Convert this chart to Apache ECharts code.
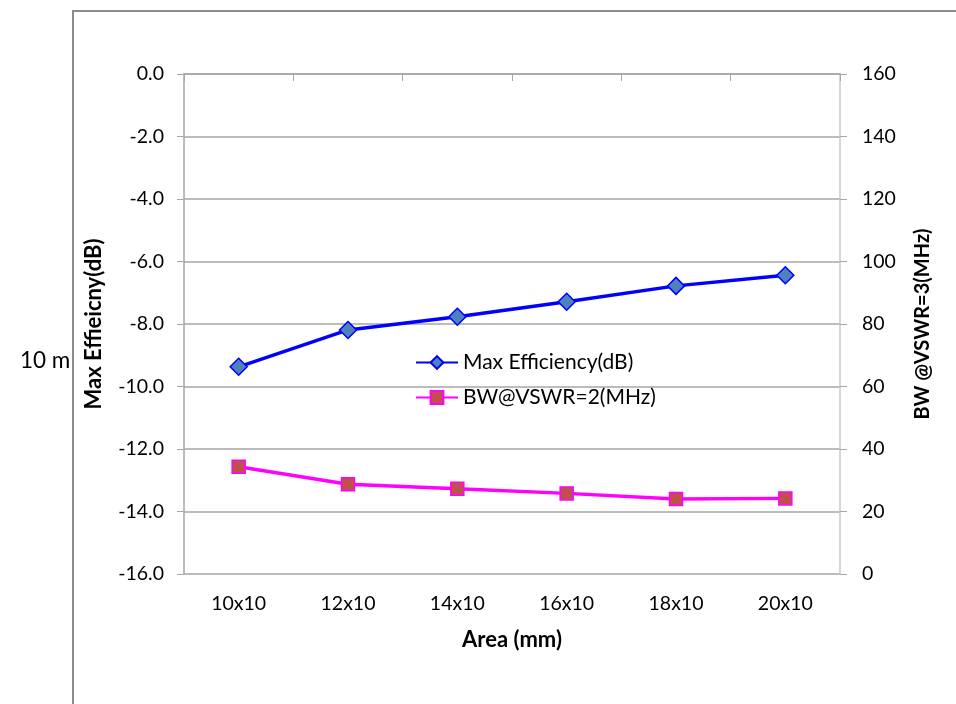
<!DOCTYPE html>
<html><head><meta charset="utf-8">
<script src="https://cdn.jsdelivr.net/npm/echarts@6/dist/echarts.min.js"></script>
<style>html,body{margin:0;padding:0;background:#fff}#c{width:956px;height:704px}</style>
</head><body><div id="c"></div>
<script>
const categories = ['10x10','12x10','14x10','16x10','18x10','20x10'];
const efficiency = [-9.37, -8.19, -7.77, -7.29, -6.78, -6.44];
const bandwidth = [34.3, 28.7, 27.3, 25.8, 24.0, 24.2];
const FONT = 'Lato, "Open Sans", sans-serif';
const chart = echarts.init(document.getElementById('c'));
chart.setOption({
  animation: false,
  textStyle: {fontFamily: FONT},
  graphic: [
    {type:'rect', shape:{x:73, y:11, width:1000, height:800}, style:{fill:'none', stroke:'#8c8c8c', lineWidth:2}, silent:true, z:-1},
    {type:'text', left:20, top:349, style:{text:'10 m', font:'22.5px ' + FONT, fill:'#000'}}
  ],
  grid: {left:184, right:116, top:74, bottom:130, containLabel:false},
  legend: {
    orient:'vertical', left:410, top:347, itemGap:14, itemWidth:42, itemHeight:16,
    textStyle:{fontSize:21, fontFamily:FONT, color:'#000'},
    data:[{name:'Max Efficiency(dB)'},{name:'BW@VSWR=2(MHz)'}]
  },
  xAxis: {
    type:'category', data:categories, boundaryGap:true,
    name:'Area (mm)', nameLocation:'middle', nameGap:55,
    nameTextStyle:{fontSize:22, fontWeight:'bold', color:'#000', fontFamily:FONT},
    axisLine:{lineStyle:{color:'#a6a6a6', width:1.5}},
    axisTick:{show:true, length:7, lineStyle:{color:'#a6a6a6'}, alignWithLabel:false},
    axisLabel:{fontSize:19.5, color:'#000', margin:20, fontFamily:FONT}
  },
  yAxis: [
    {
      type:'value', min:-16, max:0, interval:2, position:'left',
      name:'Max Effieicny(dB)', nameLocation:'middle', nameGap:79,
      nameTextStyle:{fontSize:22, fontWeight:'bold', color:'#000', fontFamily:FONT},
      axisLine:{show:true, lineStyle:{color:'#a6a6a6', width:1.5}},
      axisTick:{show:true, length:7, lineStyle:{color:'#a6a6a6'}},
      axisLabel:{fontSize:19.5, color:'#000', margin:20, fontFamily:FONT, formatter:v=>v.toFixed(1)},
      splitLine:{lineStyle:{color:'#a6a6a6', width:1.5}}
    },
    {
      type:'value', min:0, max:160, interval:20, position:'right',
      name:'BW @VSWR=3(MHz)', nameLocation:'middle', nameGap:73,
      nameTextStyle:{fontSize:20, fontWeight:'bold', color:'#000', fontFamily:FONT},
      axisLine:{show:true, lineStyle:{color:'#c8c8c8', width:1.5}},
      axisTick:{show:true, length:7, lineStyle:{color:'#a6a6a6'}},
      axisLabel:{fontSize:19.5, color:'#000', margin:22, fontFamily:FONT},
      splitLine:{show:false}
    }
  ],
  series: [
    {
      name:'Max Efficiency(dB)', type:'line', yAxisIndex:0, data:efficiency,
      symbol:'diamond', symbolSize:17,
      lineStyle:{color:'#0000ff', width:3.5},
      itemStyle:{color:'#4f81bd', borderColor:'#0000ff', borderWidth:1.5}
    },
    {
      name:'BW@VSWR=2(MHz)', type:'line', yAxisIndex:1, data:bandwidth,
      symbol:'rect', symbolSize:13,
      lineStyle:{color:'#ff00ff', width:3.5},
      itemStyle:{color:'#c0504d', borderColor:'#ff00ff', borderWidth:1.5}
    }
  ]
});
</script></body></html>
